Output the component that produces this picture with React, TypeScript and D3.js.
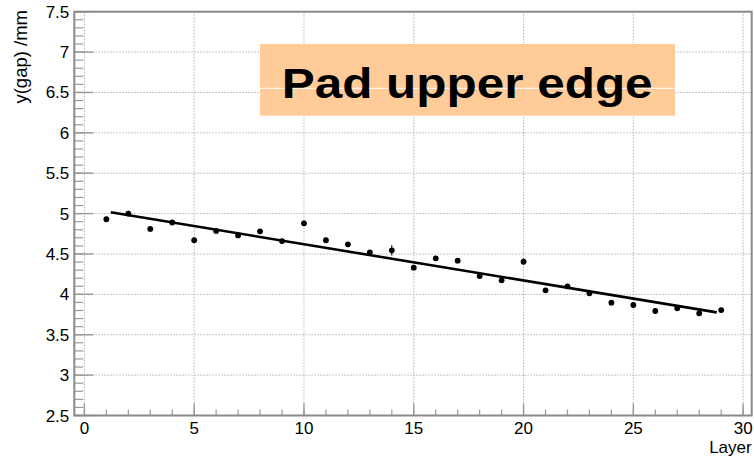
import React from "react";
import * as d3 from "d3";

// Measured gap per detector layer
const layers = [1, 2, 3, 4, 5, 6, 7, 8, 9, 10, 11, 12, 13, 14, 15, 16, 17, 18, 19, 20, 21, 22, 23, 24, 25, 26, 27, 28, 29];
const gapValues = [4.93, 5.0, 4.81, 4.89, 4.67, 4.785, 4.73, 4.78, 4.66, 4.88, 4.67, 4.62, 4.52, 4.545, 4.33, 4.446, 4.417, 4.227, 4.174, 4.405, 4.05, 4.1, 4.013, 3.897, 3.868, 3.794, 3.827, 3.765, 3.806];
const gapErrors = [0.03, 0.035, 0.03, 0.03, 0.03, 0.03, 0.03, 0.03, 0.03, 0.035, 0.03, 0.03, 0.03, 0.065, 0.03, 0.03, 0.03, 0.03, 0.03, 0.04, 0.03, 0.03, 0.03, 0.03, 0.03, 0.03, 0.03, 0.03, 0.03];

// Linear fit: intercept, slope and the range it is drawn over
const fitParams = [5.07, -0.0449];
const fitRange = [1.2, 28.8];

const xDomain = [-0.46, 30.39];
const yDomain = [2.5, 7.5];
const xMajorTicks = [0, 5, 10, 15, 20, 25, 30];
const yMajorTicks = [2.5, 3, 3.5, 4, 4.5, 5, 5.5, 6, 6.5, 7, 7.5];

const xTitle = "Layer";
const yTitle = "y(gap) /mm";
const boxLabel = "Pad upper edge";

const W = 754;
const H = 459;
const L = 74.3;
const R = 751.7;
const T = 11.7;
const B = 415.5;

export default function App() {
  const x = d3.scaleLinear().domain(xDomain).range([L, R]);
  const y = d3.scaleLinear().domain(yDomain).range([B, T]);

  const xMinor = d3.range(0, 31, 1);
  const yMinor = d3.range(25, 76, 1).map((v) => v / 10);

  const fitLine = d3
    .line<number>()
    .x((d) => x(d))
    .y((d) => y(fitParams[0] + fitParams[1] * d));

  const font = "'Liberation Sans', Arial, Helvetica, sans-serif";
  const gridColor = "#b4b4b4";
  const frameColor = "#8a8a8a";
  const tickColor = "#9a9a9a";

  return (
    <svg
      width={W}
      height={H}
      style={{ position: "absolute", left: 0, top: 0, background: "#fff" }}
      fontFamily={font}
    >
      {/* grid */}
      {xMajorTicks.map((t) => (
        <line key={"gx" + t} x1={x(t)} x2={x(t)} y1={T} y2={B} stroke={gridColor} strokeWidth={1} strokeDasharray="1.5,1.5" />
      ))}
      {yMajorTicks.map((t) => (
        <line key={"gy" + t} x1={L} x2={R} y1={y(t)} y2={y(t)} stroke={gridColor} strokeWidth={1} strokeDasharray="1.5,1.5" />
      ))}

      {/* minor and major ticks */}
      {yMinor.map((t) => (
        <line key={"ym" + t} x1={L} x2={L + 9} y1={y(t)} y2={y(t)} stroke={tickColor} strokeWidth={1.2} />
      ))}
      {yMajorTicks.map((t) => (
        <line key={"yM" + t} x1={L} x2={L + 19} y1={y(t)} y2={y(t)} stroke={tickColor} strokeWidth={1.4} />
      ))}
      {xMinor.map((t) => (
        <line key={"xm" + t} x1={x(t)} x2={x(t)} y1={B} y2={B - 6} stroke={tickColor} strokeWidth={1.2} />
      ))}
      {xMajorTicks.map((t) => (
        <line key={"xM" + t} x1={x(t)} x2={x(t)} y1={B} y2={B - 12} stroke={tickColor} strokeWidth={1.4} />
      ))}

      {/* frame */}
      <rect x={L} y={T} width={R - L} height={B - T} fill="none" stroke={frameColor} strokeWidth={2} />

      {/* label box */}
      <rect x={260} y={44} width={415} height={71.7} fill="#ffcc99" />
      <line x1={260} x2={675} y1={88.3} y2={88.3} stroke="#fff" strokeWidth={1} />
      <text
        transform="translate(281.7,97.7) scale(1.15,1)"
        fontSize={43}
        fontWeight="bold"
        fill="#000"
      >
        {boxLabel}
      </text>

      {/* fit */}
      <path d={fitLine(fitRange) || ""} fill="none" stroke="#000" strokeWidth={2.6} />

      {/* data with error bars */}
      {layers.map((l, i) => (
        <g key={"p" + l}>
          <line
            x1={x(l)}
            x2={x(l)}
            y1={y(gapValues[i] - gapErrors[i])}
            y2={y(gapValues[i] + gapErrors[i])}
            stroke="#000"
            strokeWidth={1}
          />
          <circle cx={x(l)} cy={y(gapValues[i])} r={2.9} fill="#000" />
        </g>
      ))}

      {/* tick labels */}
      {yMajorTicks.map((t) => (
        <text key={"ly" + t} x={L - 5} y={y(t) + 6} fontSize={17} textAnchor="end" fill="#000">
          {String(t)}
        </text>
      ))}
      {xMajorTicks.map((t) => (
        <text key={"lx" + t} x={x(t)} y={434} fontSize={17} textAnchor="middle" fill="#000">
          {String(t)}
        </text>
      ))}

      {/* axis titles */}
      <text x={R} y={452.7} fontSize={17} textAnchor="end" fill="#000">
        {xTitle}
      </text>
      <text transform={`translate(27,10) rotate(-90)`} fontSize={18.5} textAnchor="end" fill="#000">
        {yTitle}
      </text>
    </svg>
  );
}
